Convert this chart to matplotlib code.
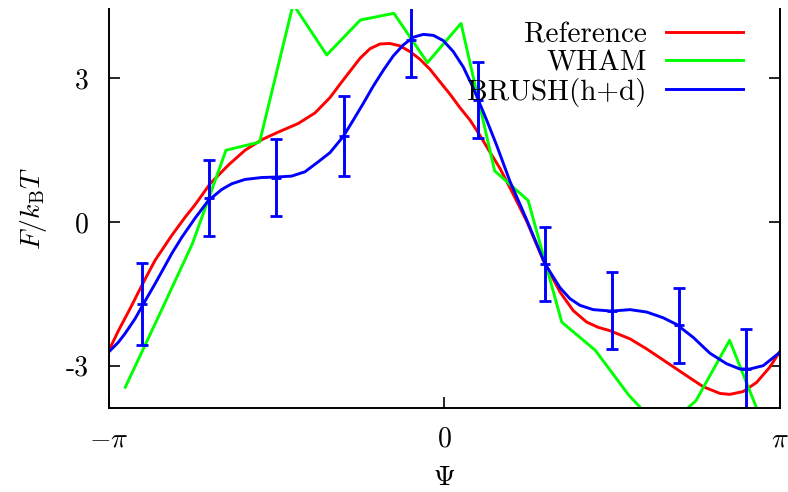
import numpy as np
import matplotlib
matplotlib.use("Agg")
import matplotlib.pyplot as plt

plt.rcParams['font.family'] = 'cmr10'
plt.rcParams['mathtext.fontset'] = 'cm'
plt.rcParams['axes.unicode_minus'] = False

# reference free energy (smooth curve)
psi_ref = [-3.1416, -3.049, -2.940, -2.815, -2.706, -2.550, -2.425, -2.332, -2.191, -2.020,
           -1.864, -1.708, -1.552, -1.365, -1.209, -1.069, -0.975, -0.882, -0.788, -0.695,
           -0.601, -0.508, -0.414, -0.320, -0.227, -0.133, -0.040, 0.054, 0.147, 0.241,
           0.334, 0.428, 0.522, 0.646, 0.771, 0.927, 1.083, 1.207, 1.333,
           1.441, 1.551, 1.738, 1.894, 2.081, 2.268, 2.423, 2.580, 2.673, 2.798,
           2.923, 3.047, 3.1416]
ref_F = [-2.70, -2.27, -1.81, -1.26, -0.80, -0.28, 0.10, 0.36, 0.80, 1.19,
         1.50, 1.72, 1.88, 2.06, 2.28, 2.60, 2.88, 3.15, 3.42, 3.62,
         3.72, 3.73, 3.68, 3.56, 3.40, 3.19, 2.93, 2.67, 2.39, 2.13,
         1.81, 1.46, 1.12, 0.58, 0.02, -0.80, -1.46, -1.85, -2.09,
         -2.20, -2.27, -2.44, -2.65, -2.93, -3.21, -3.44, -3.58, -3.60, -3.54,
         -3.35, -3.03, -2.70]

# BRUSH(h+d) estimate
psi_brush = [-3.1416, -3.049, -2.987, -2.893, -2.815, -2.706, -2.550, -2.456, -2.332, -2.207,
             -2.082, -1.988, -1.864, -1.708, -1.567, -1.427, -1.303, -1.178, -1.069, -0.944,
             -0.851, -0.757, -0.664, -0.570, -0.477, -0.383, -0.290, -0.196, -0.102, -0.009,
             0.085, 0.178, 0.272, 0.397, 0.491, 0.615, 0.771, 0.942, 1.083, 1.176,
             1.270, 1.394, 1.566, 1.738, 1.894, 2.049, 2.175, 2.330, 2.486, 2.642,
             2.767, 2.860, 2.985, 3.1416]
brush_F = [-2.72, -2.51, -2.33, -2.02, -1.71, -1.29, -0.66, -0.32, 0.08, 0.45,
           0.68, 0.80, 0.89, 0.93, 0.94, 0.96, 1.05, 1.26, 1.45, 1.79,
           2.13, 2.48, 2.84, 3.17, 3.47, 3.70, 3.86, 3.92, 3.90, 3.79,
           3.56, 3.24, 2.80, 2.13, 1.60, 0.85, 0.05, -0.87, -1.37, -1.60,
           -1.74, -1.83, -1.86, -1.83, -1.88, -2.00, -2.14, -2.41, -2.74, -2.96,
           -3.07, -3.07, -3.00, -2.72]

# WHAM histogram, 20 bins
psi_wham = -np.pi + (2 * np.arange(20) + 1) * np.pi / 20
wham_F = [-3.45, -1.96, -0.45, 1.50, 1.67, 4.55, 3.49, 4.22, 4.36, 3.33,
          4.15, 1.07, 0.45, -2.09, -2.68, -3.62, -4.36, -3.73, -2.47, -4.23]

# BRUSH error bars, 10 bins
psi_bar = -np.pi + (2 * np.arange(10) + 1) * np.pi / 10
bar_F = [-1.71, 0.50, 0.93, 1.80, 3.80, 2.55, -0.87, -1.85, -2.16, -3.07]
bar_err = [0.86, 0.80, 0.81, 0.84, 0.76, 0.79, 0.77, 0.80, 0.78, 0.83]

fig = plt.figure(figsize=(7.88, 4.92), dpi=100)
ax = fig.add_axes([0.1377, 0.1707, 0.8521, 0.81])

lw = 2.1
l1, = ax.plot(psi_ref, ref_F, color='#ff0000', lw=lw, label='Reference')
l2, = ax.plot(psi_wham, wham_F, color='#00ff00', lw=lw, label='WHAM')
l3, = ax.plot(psi_brush, brush_F, color='#0000ff', lw=lw, label='BRUSH(h+d)')
ax.errorbar(psi_bar, bar_F, yerr=bar_err, fmt='_', color='#0000ff',
            ms=7, mew=2, elinewidth=2.1, capsize=4.5, capthick=2)

ax.set_xlim(-np.pi, np.pi)
ax.set_ylim(-3.885, 4.44)
ax.set_xticks([-np.pi, 0, np.pi])
ax.set_xticklabels([r'$-\pi$', r'$0$', r'$\pi$'])
ax.set_yticks([-3, 0, 3])
ax.set_yticklabels(['-3', '0', '3'])

for s in ['left', 'bottom', 'right']:
    ax.spines[s].set_linewidth(1.4)
ax.spines['top'].set_visible(False)
ax.tick_params(axis='both', direction='in', length=8, width=1.2,
               labelsize=20, right=True)
ax.tick_params(axis='y', pad=14)
ax.tick_params(axis='x', pad=13)

ax.set_xlabel(r'$\Psi$', fontsize=20, labelpad=9)
ax.set_ylabel(r'$F/k_{\rm B}T$', fontsize=20, labelpad=12)

ax.legend(handles=[l1, l2, l3], loc='upper right', frameon=False,
          markerfirst=False, fontsize=21, handlelength=2.66,
          handletextpad=0.65, labelspacing=0.05, borderaxespad=0.3,
          bbox_to_anchor=(0.976, 1.02))

fig.savefig('out.png', dpi=100)
